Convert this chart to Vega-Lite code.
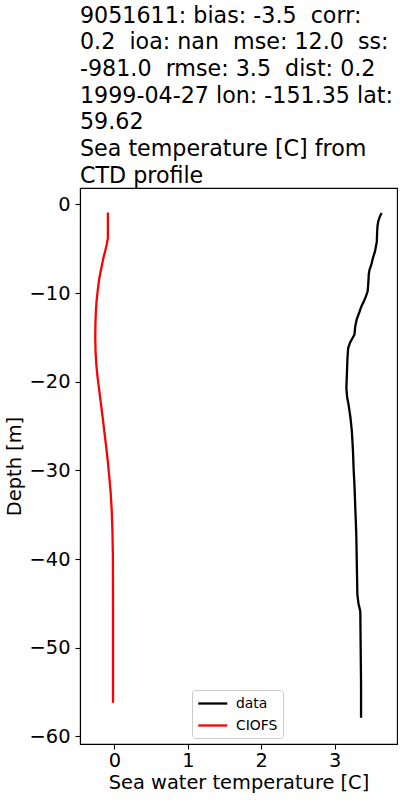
{
  "$schema": "https://vega.github.io/schema/vega-lite/v6.json",
  "autosize": "none",
  "width": 317,
  "height": 556,
  "padding": {"left": 80, "top": 188, "right": 3, "bottom": 56},
  "background": "white",
  "title": {
    "text": ["9051611: bias: -3.5\u00a0 corr:", "0.2\u00a0 ioa: nan\u00a0 mse: 12.0\u00a0 ss:", "-981.0\u00a0 rmse: 3.5\u00a0 dist: 0.2", "1999-04-27 lon: -151.35 lat:", "59.62", "Sea temperature [C] from", "CTD profile"],
    "anchor": "start",
    "frame": "group",
    "font": "DejaVu Sans",
    "fontSize": 22.2,
    "fontWeight": "normal",
    "lineHeight": 26.7,
    "color": "black",
    "offset": 1
  },
  "data": {
    "values": [
      {"series": "data", "depth": -0.98, "temp": 3.64},
      {"series": "data", "depth": -1.4, "temp": 3.615},
      {"series": "data", "depth": -1.9, "temp": 3.595},
      {"series": "data", "depth": -2.4, "temp": 3.585},
      {"series": "data", "depth": -3.0, "temp": 3.58},
      {"series": "data", "depth": -4.2, "temp": 3.575},
      {"series": "data", "depth": -5.3, "temp": 3.55},
      {"series": "data", "depth": -6.1, "temp": 3.52},
      {"series": "data", "depth": -6.8, "temp": 3.5},
      {"series": "data", "depth": -7.4, "temp": 3.475},
      {"series": "data", "depth": -7.9, "temp": 3.465},
      {"series": "data", "depth": -8.8, "temp": 3.46},
      {"series": "data", "depth": -9.8, "temp": 3.45},
      {"series": "data", "depth": -10.4, "temp": 3.425},
      {"series": "data", "depth": -10.9, "temp": 3.4},
      {"series": "data", "depth": -11.5, "temp": 3.365},
      {"series": "data", "depth": -12.1, "temp": 3.34},
      {"series": "data", "depth": -13.0, "temp": 3.3},
      {"series": "data", "depth": -13.8, "temp": 3.28},
      {"series": "data", "depth": -14.7, "temp": 3.27},
      {"series": "data", "depth": -15.2, "temp": 3.235},
      {"series": "data", "depth": -15.6, "temp": 3.21},
      {"series": "data", "depth": -16.2, "temp": 3.185},
      {"series": "data", "depth": -17.3, "temp": 3.175},
      {"series": "data", "depth": -18.5, "temp": 3.17},
      {"series": "data", "depth": -20.7, "temp": 3.16},
      {"series": "data", "depth": -21.7, "temp": 3.17},
      {"series": "data", "depth": -22.6, "temp": 3.19},
      {"series": "data", "depth": -24.0, "temp": 3.215},
      {"series": "data", "depth": -25.6, "temp": 3.235},
      {"series": "data", "depth": -27.8, "temp": 3.25},
      {"series": "data", "depth": -30.1, "temp": 3.26},
      {"series": "data", "depth": -31.6, "temp": 3.27},
      {"series": "data", "depth": -37.2, "temp": 3.295},
      {"series": "data", "depth": -44.0, "temp": 3.31},
      {"series": "data", "depth": -45.0, "temp": 3.325},
      {"series": "data", "depth": -45.9, "temp": 3.35},
      {"series": "data", "depth": -50.0, "temp": 3.355},
      {"series": "data", "depth": -54.0, "temp": 3.36},
      {"series": "data", "depth": -57.9, "temp": 3.36},
      {"series": "CIOFS", "depth": -0.9, "temp": -0.09},
      {"series": "CIOFS", "depth": -3.8, "temp": -0.09},
      {"series": "CIOFS", "depth": -4.5, "temp": -0.105},
      {"series": "CIOFS", "depth": -5.2, "temp": -0.125},
      {"series": "CIOFS", "depth": -6.0, "temp": -0.15},
      {"series": "CIOFS", "depth": -6.8, "temp": -0.17},
      {"series": "CIOFS", "depth": -7.6, "temp": -0.19},
      {"series": "CIOFS", "depth": -8.5, "temp": -0.21},
      {"series": "CIOFS", "depth": -9.8, "temp": -0.23},
      {"series": "CIOFS", "depth": -11.0, "temp": -0.245},
      {"series": "CIOFS", "depth": -12.3, "temp": -0.255},
      {"series": "CIOFS", "depth": -13.6, "temp": -0.26},
      {"series": "CIOFS", "depth": -15.0, "temp": -0.262},
      {"series": "CIOFS", "depth": -16.6, "temp": -0.258},
      {"series": "CIOFS", "depth": -18.0, "temp": -0.248},
      {"series": "CIOFS", "depth": -19.4, "temp": -0.232},
      {"series": "CIOFS", "depth": -20.7, "temp": -0.212},
      {"series": "CIOFS", "depth": -22.4, "temp": -0.186},
      {"series": "CIOFS", "depth": -24.1, "temp": -0.16},
      {"series": "CIOFS", "depth": -25.9, "temp": -0.134},
      {"series": "CIOFS", "depth": -27.7, "temp": -0.108},
      {"series": "CIOFS", "depth": -29.2, "temp": -0.088},
      {"series": "CIOFS", "depth": -30.8, "temp": -0.07},
      {"series": "CIOFS", "depth": -32.5, "temp": -0.052},
      {"series": "CIOFS", "depth": -34.5, "temp": -0.038},
      {"series": "CIOFS", "depth": -36.8, "temp": -0.028},
      {"series": "CIOFS", "depth": -39.5, "temp": -0.022},
      {"series": "CIOFS", "depth": -45.0, "temp": -0.02},
      {"series": "CIOFS", "depth": -56.2, "temp": -0.02}
    ]
  },
  "mark": {"type": "line", "strokeWidth": 2.3, "interpolate": "linear"},
  "encoding": {
    "x": {
      "field": "temp", "type": "quantitative",
      "scale": {"domain": [-0.47, 3.85], "nice": false, "zero": false},
      "axis": {"values": [0, 1, 2, 3], "title": "Sea water temperature [C]", "grid": false, "titlePadding": 4, "labelPadding": 2}
    },
    "y": {
      "field": "depth", "type": "quantitative",
      "scale": {"domain": [-60.85, 1.85], "nice": false, "zero": false},
      "axis": {"values": [0, -10, -20, -30, -40, -50, -60], "title": "Depth [m]", "grid": false, "titlePadding": 5}
    },
    "order": {"field": "depth", "sort": "descending"},
    "color": {
      "field": "series", "type": "nominal",
      "scale": {"domain": ["data", "CIOFS"], "range": ["black", "#ff0000"]},
      "legend": {
        "title": null,
        "orient": "none",
        "legendX": 112,
        "legendY": 502,
        "symbolType": "M-1,0H3",
        "symbolSize": 210,
        "symbolStrokeWidth": 2.3,
        "labelFontSize": 13.9,
        "labelFont": "DejaVu Sans",
        "labelColor": "black",
        "labelOffset": 22,
        "strokeColor": "#cccccc",
        "fillColor": "white",
        "padding": 5,
        "cornerRadius": 3,
        "rowPadding": 6
      }
    }
  },
  "config": {
    "font": "DejaVu Sans",
    "view": {"stroke": "black", "strokeWidth": 1.1},
    "axis": {
      "labelFont": "DejaVu Sans",
      "labelFontSize": 19.4,
      "labelColor": "black",
      "titleFont": "DejaVu Sans",
      "titleFontSize": 19.4,
      "titleFontWeight": "normal",
      "titleColor": "black",
      "tickColor": "black",
      "tickSize": 5,
      "tickWidth": 1.1,
      "domainColor": "black",
      "domainWidth": 1.1,
      "labelPadding": 5
    }
  }
}
